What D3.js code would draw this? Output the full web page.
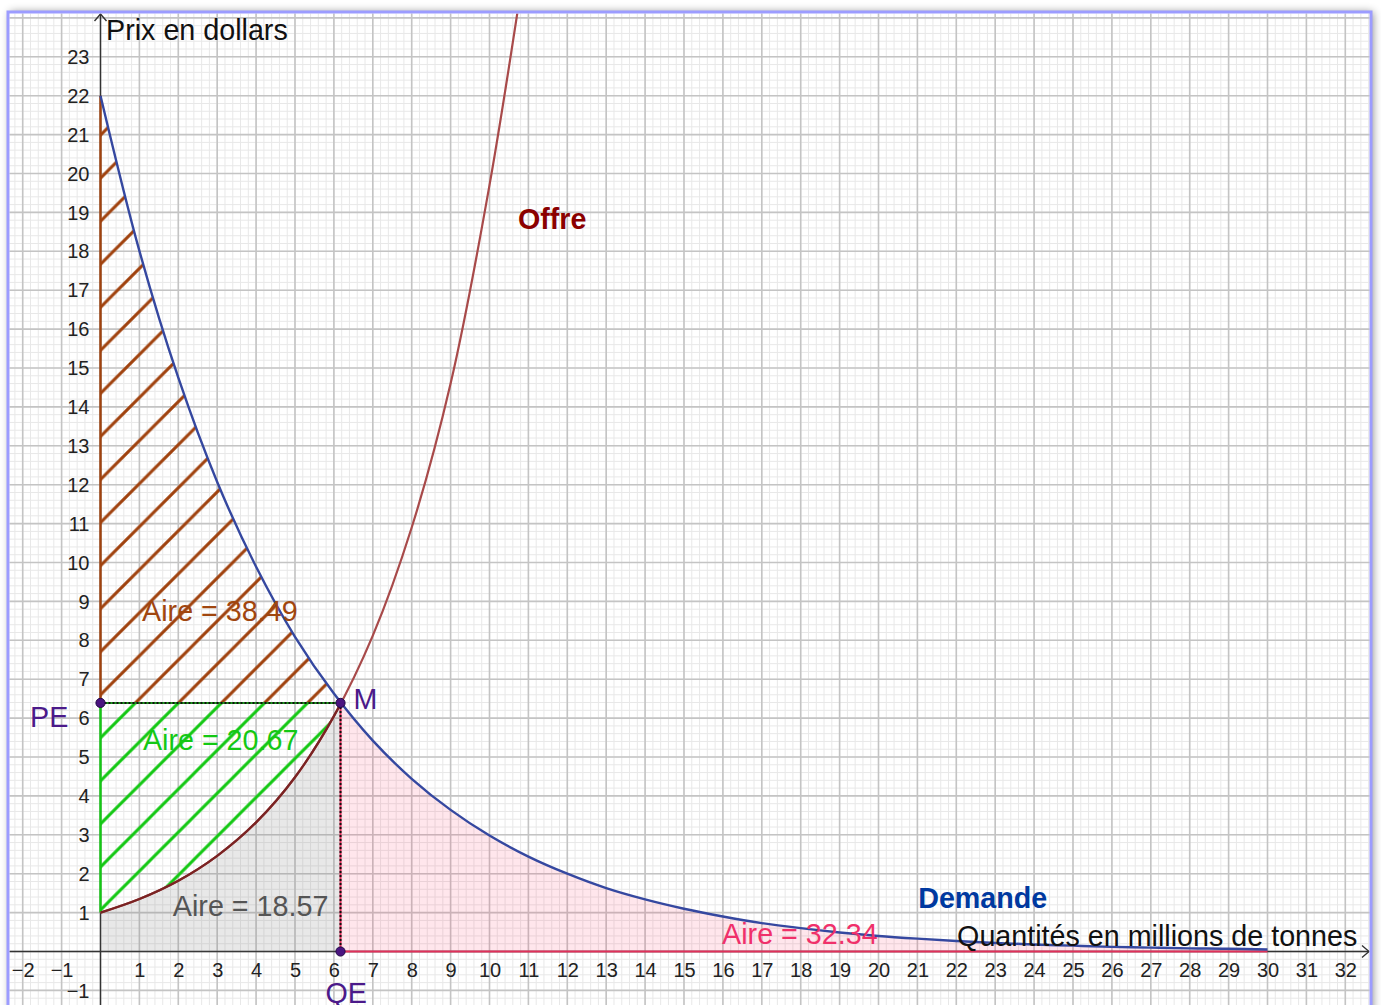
<!DOCTYPE html>
<html>
<head>
<meta charset="utf-8">
<script src="https://cdn.jsdelivr.net/npm/d3@7"></script>
<style>
  html, body { margin: 0; padding: 0; background: #fff; overflow: hidden; }
  svg { display: block; font-family: "Liberation Sans", Arial, sans-serif; }
</style>
</head>
<body>
<svg id="chart" width="1381" height="1005"></svg>
<script>
// demand curve (quantity -> price)
const demandQ = [0, 1, 2, 3, 4, 5, 6, 7, 8, 9, 10, 11, 12, 13, 14, 15, 16, 17, 18, 19, 20, 21, 22, 23, 24, 25, 26, 27, 28, 29, 30];
const demandP = [22, 18.01, 14.75, 12.07, 9.89, 8.09, 6.63, 5.42, 4.44, 3.64, 2.98, 2.44, 2.0, 1.63, 1.34, 1.1, 0.9, 0.73, 0.6, 0.49, 0.4, 0.33, 0.27, 0.22, 0.18, 0.15, 0.12, 0.1, 0.08, 0.07, 0.05];
// supply curve
const supplyQ = [0, 1, 2, 3, 4, 5, 6, 7, 8, 9, 10, 11];
const supplyP = [1, 1.35, 1.82, 2.46, 3.32, 4.48, 6.05, 8.12, 10.9, 14.6, 19.7, 26.0];
// equilibrium
const QE = 6.17;
const PE = 6.39;
// ticks
const xTicks = [-2, -1, 1, 2, 3, 4, 5, 6, 7, 8, 9, 10, 11, 12, 13, 14, 15, 16, 17, 18, 19, 20, 21, 22, 23, 24, 25, 26, 27, 28, 29, 30, 31, 32];
const yTicks = [-1, 1, 2, 3, 4, 5, 6, 7, 8, 9, 10, 11, 12, 13, 14, 15, 16, 17, 18, 19, 20, 21, 22, 23];
// area labels
const areaLabels = ['Aire = 38.49', 'Aire = 20.67', 'Aire = 18.57', 'Aire = 32.34'];

const demand = demandQ.map((q, i) => [q, demandP[i]]);
const supply = supplyQ.map((q, i) => [q, supplyP[i]]);

const svg = d3.select('#chart');
const frame = { x0: 8, y0: 12, x1: 1371, y1: 1015 };

const x = d3.scaleLinear().domain([0, 30]).range([100.5, 1267.5]);
const y = d3.scaleLinear().domain([0, 22]).range([951.5, 95.7]);

const defs = svg.append('defs');

const shadow = defs.append('filter').attr('id', 'shadow')
  .attr('x', -0.05).attr('y', -0.05).attr('width', 1.1).attr('height', 1.1);
shadow.append('feDropShadow').attr('dx', 2).attr('dy', 0).attr('stdDeviation', 4)
  .attr('flood-color', '#000').attr('flood-opacity', 0.45);

defs.append('clipPath').attr('id', 'plot')
  .append('rect').attr('x', frame.x0 + 1.5).attr('y', frame.y0 + 1.5)
  .attr('width', frame.x1 - frame.x0 - 3).attr('height', frame.y1 - frame.y0 - 3);
defs.append('clipPath').attr('id', 'left')
  .append('rect').attr('x', x(0)).attr('y', 0).attr('width', x(QE) - x(0)).attr('height', 1005);
defs.append('clipPath').attr('id', 'right')
  .append('rect').attr('x', x(QE)).attr('y', 0).attr('width', x(30) - x(QE)).attr('height', 1005);

function hatch(id, color) {
  const s = 43.05;
  defs.append('pattern').attr('id', id)
    .attr('patternUnits', 'userSpaceOnUse')
    .attr('width', s).attr('height', s).attr('x', 20.35).attr('y', 0)
    .append('path')
    .attr('d', `M0,${s}L${s},0M-3,3L3,-3M${s - 3},${s + 3}L${s + 3},${s - 3}`)
    .attr('stroke', color).attr('stroke-width', 3).attr('fill', 'none');
}
hatch('hatchBrown', '#a0420e');
hatch('hatchGreen', '#14c814');

// frame
svg.append('rect')
  .attr('x', frame.x0).attr('y', frame.y0)
  .attr('width', frame.x1 - frame.x0).attr('height', frame.y1 - frame.y0)
  .attr('fill', '#fff').attr('filter', 'url(#shadow)');

const plot = svg.append('g').attr('clip-path', 'url(#plot)');

// grid
const minor = d3.range(-15, 170).map(i => i / 5);
const major = d3.range(-3, 34);
const grid = plot.append('g');
grid.selectAll('.mx').data(minor).join('line')
  .attr('x1', d => x(d)).attr('x2', d => x(d)).attr('y1', 0).attr('y2', 1005)
  .attr('stroke', '#e8e8e8').attr('stroke-width', 1);
grid.selectAll('.my').data(minor).join('line')
  .attr('y1', d => y(d)).attr('y2', d => y(d)).attr('x1', 0).attr('x2', 1381)
  .attr('stroke', '#e8e8e8').attr('stroke-width', 1);
grid.selectAll('.Mx').data(major).join('line')
  .attr('x1', d => x(d)).attr('x2', d => x(d)).attr('y1', 0).attr('y2', 1005)
  .attr('stroke', '#c4c4c4').attr('stroke-width', 1.6);
grid.selectAll('.My').data(major).join('line')
  .attr('y1', d => y(d)).attr('y2', d => y(d)).attr('x1', 0).attr('x2', 1381)
  .attr('stroke', '#c4c4c4').attr('stroke-width', 1.6);

// axes lines
const ax = plot.append('g').attr('stroke', '#333').attr('stroke-width', 1.4).attr('fill', 'none');
ax.append('line').attr('x1', 0).attr('x2', 1369).attr('y1', y(0)).attr('y2', y(0));
ax.append('line').attr('x1', x(0)).attr('x2', x(0)).attr('y1', 1005).attr('y2', 14);
ax.append('path').attr('d', `M1362,${y(0) - 6}L1369,${y(0)}L1362,${y(0) + 6}`);
ax.append('path').attr('d', `M${x(0) - 6},21L${x(0)},14L${x(0) + 6},21`);

const curve = d3.curveCatmullRom;

// fills
plot.append('path').datum(supply)
  .attr('clip-path', 'url(#left)')
  .attr('d', d3.area().x(d => x(d[0])).y0(y(0)).y1(d => y(d[1])).curve(curve))
  .attr('fill', '#808080').attr('fill-opacity', 0.18);
plot.append('path').datum(demand)
  .attr('clip-path', 'url(#right)')
  .attr('d', d3.area().x(d => x(d[0])).y0(y(0)).y1(d => y(d[1])).curve(curve))
  .attr('fill', '#ff3366').attr('fill-opacity', 0.12);

// hatched surpluses
plot.append('path').datum(demand)
  .attr('clip-path', 'url(#left)')
  .attr('d', d3.area().x(d => x(d[0])).y0(y(PE)).y1(d => y(d[1])).curve(curve))
  .attr('fill', 'url(#hatchBrown)');
plot.append('path').datum(supply)
  .attr('clip-path', 'url(#left)')
  .attr('d', d3.area().x(d => x(d[0])).y0(y(PE)).y1(d => y(d[1])).curve(curve))
  .attr('fill', 'url(#hatchGreen)');

// region borders
plot.append('line').attr('x1', x(QE)).attr('x2', x(30)).attr('y1', y(0)).attr('y2', y(0))
  .attr('stroke', '#e0305a').attr('stroke-width', 2);
plot.append('line').attr('x1', x(0)).attr('x2', x(0)).attr('y1', y(PE)).attr('y2', y(demandP[0]))
  .attr('stroke', '#a0420e').attr('stroke-width', 2.4);
plot.append('line').attr('x1', x(0)).attr('x2', x(0)).attr('y1', y(supplyP[0])).attr('y2', y(PE))
  .attr('stroke', '#14c814').attr('stroke-width', 2.4);

// curves
const line = d3.line().x(d => x(d[0])).y(d => y(d[1])).curve(curve);
plot.append('path').datum(supply).attr('d', line)
  .attr('fill', 'none').attr('stroke', '#a84a4a').attr('stroke-width', 2.2);
plot.append('path').datum(supply).attr('d', line).attr('clip-path', 'url(#left)')
  .attr('fill', 'none').attr('stroke', '#7a2323').attr('stroke-width', 2.2);
plot.append('path').datum(demand).attr('d', line)
  .attr('fill', 'none').attr('stroke', '#3548a0').attr('stroke-width', 2.4);

// dotted guides
plot.append('line').attr('x1', x(0)).attr('x2', x(QE)).attr('y1', y(PE)).attr('y2', y(PE))
  .attr('stroke', '#1e9a1e').attr('stroke-width', 2);
plot.append('line').attr('x1', x(0)).attr('x2', x(QE)).attr('y1', y(PE)).attr('y2', y(PE))
  .attr('stroke', '#111').attr('stroke-width', 2).attr('stroke-dasharray', '2,2');
plot.append('line').attr('x1', x(QE)).attr('x2', x(QE)).attr('y1', y(PE)).attr('y2', y(0))
  .attr('stroke', '#e0305a').attr('stroke-width', 2);
plot.append('line').attr('x1', x(QE)).attr('x2', x(QE)).attr('y1', y(PE)).attr('y2', y(0))
  .attr('stroke', '#111').attr('stroke-width', 2).attr('stroke-dasharray', '2,2');

// points
const pts = [[0, PE], [QE, PE], [QE, 0]];
plot.selectAll('.pt').data(pts).join('circle')
  .attr('cx', d => x(d[0])).attr('cy', d => y(d[1])).attr('r', 4.6)
  .attr('fill', '#4a1480').attr('stroke', '#220844').attr('stroke-width', 1);

// tick labels
const xAxis = plot.append('g').attr('transform', `translate(0,${y(0)})`)
  .call(d3.axisBottom(x).tickValues(xTicks).tickSize(0).tickPadding(11));
const yAxis = plot.append('g').attr('transform', `translate(${x(0)},0)`)
  .call(d3.axisLeft(y).tickValues(yTicks).tickSize(0).tickPadding(11));
[xAxis, yAxis].forEach(g => {
  g.select('.domain').remove();
  g.selectAll('text').attr('font-size', 20).attr('fill', '#222')
    .attr('font-family', '"Liberation Sans", Arial, sans-serif');
});
yAxis.selectAll('text').attr('dy', '0.33em');

// text labels
const txt = plot.append('g').attr('font-size', 28.7);
function label(t, px, py, color, weight) {
  txt.append('text').attr('x', px).attr('y', py).text(t)
    .attr('fill', color).attr('font-weight', weight || 'normal');
}
label('Prix en dollars', x(0) + 5.5, 39.5, '#111');
label('Quantités en millions de tonnes', x(22.02), 946, '#111');
label('Offre', x(10.73), 229, '#8b0000', 'bold');
label('Demande', x(21.02), 908, '#0039a0', 'bold');
label(areaLabels[0], x(1.07), 621, '#a0460f');
label(areaLabels[1], x(1.09), 750, '#14c814');
label(areaLabels[2], x(1.86), 916, '#555');
label(areaLabels[3], x(15.98), 944, '#f0306a');
label('PE', 30, 727, '#4b1a8a');
label('M', x(QE) + 13, 709, '#4b1a8a');
label('QE', x(QE) - 15, 1003, '#4b1a8a');

// frame border on top
svg.append('rect')
  .attr('x', frame.x0).attr('y', frame.y0)
  .attr('width', frame.x1 - frame.x0).attr('height', frame.y1 - frame.y0)
  .attr('fill', 'none').attr('stroke', '#9c9cff').attr('stroke-width', 3);
</script>
</body>
</html>
